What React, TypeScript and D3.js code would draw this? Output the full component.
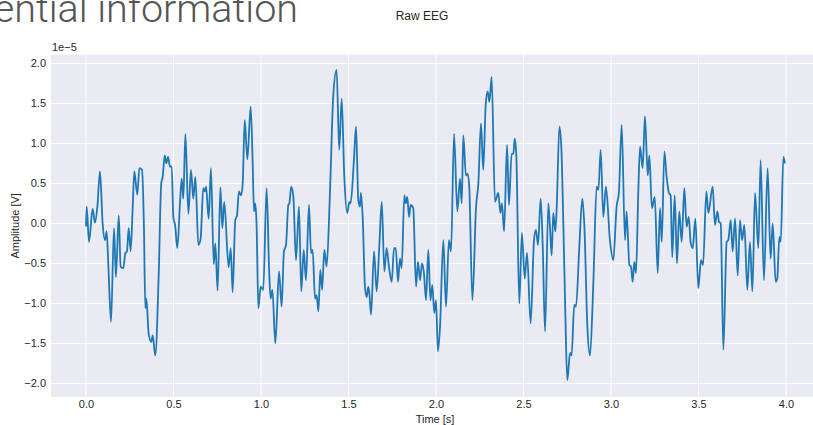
import React, { useRef, useEffect } from "react";
import { select, scaleLinear, line, curveMonotoneX, axisBottom, axisLeft, format } from "d3";

// Raw EEG trace; amplitude in units of 1e-5 V
const timeS = [
  0.000, 0.004, 0.017, 0.038, 0.051, 0.065, 0.080, 0.095, 0.109, 0.118, 0.128, 0.143, 0.160, 0.171, 0.187, 0.198,
  0.213, 0.225, 0.234, 0.244, 0.255, 0.267, 0.276, 0.293, 0.305, 0.320, 0.331, 0.339, 0.345, 0.358, 0.373, 0.381,
  0.396, 0.415, 0.430, 0.438, 0.450, 0.459, 0.469, 0.480, 0.490, 0.499, 0.509, 0.522, 0.537, 0.547, 0.556, 0.568,
  0.585, 0.600, 0.613, 0.625, 0.642, 0.655, 0.670, 0.678, 0.686, 0.701, 0.714, 0.730, 0.739, 0.752, 0.768, 0.779,
  0.790, 0.815, 0.827, 0.838, 0.853, 0.863, 0.874, 0.886, 0.895, 0.907, 0.922, 0.941, 0.952, 0.960, 0.968, 0.975,
  0.985, 0.998, 1.013, 1.032, 1.047, 1.055, 1.065, 1.082, 1.103, 1.118, 1.131, 1.143, 1.156, 1.162, 1.173, 1.185,
  1.200, 1.217, 1.230, 1.244, 1.257, 1.274, 1.286, 1.295, 1.309, 1.318, 1.328, 1.339, 1.349, 1.362, 1.375, 1.394,
  1.413, 1.432, 1.447, 1.461, 1.476, 1.493, 1.505, 1.512, 1.531, 1.543, 1.556, 1.566, 1.571, 1.581, 1.594, 1.604,
  1.613, 1.619, 1.629, 1.646, 1.661, 1.676, 1.690, 1.705, 1.718, 1.731, 1.747, 1.760, 1.770, 1.783, 1.794, 1.804,
  1.819, 1.827, 1.836, 1.846, 1.855, 1.870, 1.886, 1.897, 1.909, 1.920, 1.931, 1.943, 1.956, 1.968, 1.979, 1.990,
  2.000, 2.011, 2.023, 2.042, 2.057, 2.074, 2.086, 2.103, 2.122, 2.137, 2.147, 2.156, 2.171, 2.181, 2.190, 2.208,
  2.229, 2.242, 2.257, 2.270, 2.284, 2.295, 2.305, 2.318, 2.337, 2.356, 2.368, 2.377, 2.389, 2.406, 2.417, 2.432,
  2.442, 2.450, 2.459, 2.476, 2.491, 2.507, 2.520, 2.541, 2.560, 2.571, 2.583, 2.598, 2.610, 2.623, 2.642, 2.651,
  2.661, 2.670, 2.682, 2.690, 2.705, 2.716, 2.728, 2.739, 2.750, 2.766, 2.775, 2.790, 2.800, 2.819, 2.836, 2.848,
  2.865, 2.880, 2.899, 2.918, 2.928, 2.941, 2.956, 2.971, 2.994, 3.013, 3.032, 3.045, 3.061, 3.080, 3.089, 3.105,
  3.114, 3.124, 3.133, 3.143, 3.156, 3.166, 3.181, 3.194, 3.210, 3.219, 3.234, 3.250, 3.267, 3.280, 3.290, 3.305,
  3.318, 3.331, 3.341, 3.350, 3.364, 3.377, 3.390, 3.404, 3.419, 3.432, 3.444, 3.455, 3.467, 3.482, 3.499, 3.514,
  3.526, 3.545, 3.556, 3.581, 3.594, 3.608, 3.617, 3.627, 3.642, 3.661, 3.670, 3.684, 3.695, 3.709, 3.724, 3.737,
  3.749, 3.762, 3.779, 3.794, 3.808, 3.823, 3.842, 3.855, 3.874, 3.895, 3.912, 3.924, 3.941, 3.950, 3.962, 3.970,
  3.985, 3.994
];
const amplitude = [
  -0.04, 0.21, -0.23, 0.18, 0.01, 0.21, 0.65, 0.00, -0.21, -0.10, -0.54, -1.23, -0.06, -0.67, 0.10, -0.54,
  -0.56, -0.37, -0.35, -0.06, -0.35, 0.21, 0.65, 0.36, 0.69, 0.67, -0.04, -1.06, -0.94, -1.38, -1.48, -1.40,
  -1.65, -0.67, 0.50, 0.58, 0.85, 0.75, 0.83, 0.71, 0.71, 0.08, -0.02, -0.31, 0.25, 0.56, 0.31, 1.12,
  0.12, 0.67, 0.31, 0.58, -0.27, -0.19, 0.44, 0.40, 0.46, 0.06, 0.69, -0.51, -0.25, -0.84, 0.45, -0.06,
  0.27, -0.55, -0.31, -0.86, 0.04, 0.10, 0.40, 0.35, 0.48, 1.29, 0.80, 1.46, 0.79, 0.15, 0.25, -0.04,
  -1.06, -0.79, -0.83, 0.44, -0.62, -0.94, -0.83, -1.50, -0.60, -1.04, -0.35, -0.27, 0.23, 0.25, 0.46, 0.33,
  -0.46, 0.21, -0.85, -0.33, -0.71, 0.23, -0.37, -0.33, -0.94, -0.90, -1.10, -0.58, -0.83, -0.33, -0.54, 0.38,
  1.60, 1.92, 0.92, 1.56, 0.58, 0.13, 0.27, 0.25, 0.79, 1.21, 0.29, 0.21, 0.38, 0.08, -0.79, -0.92,
  -0.79, -0.87, -1.14, -0.35, -0.85, -0.29, 0.27, -0.60, -0.31, -0.54, -0.73, -0.31, -0.31, -0.73, -0.44, -0.56,
  0.35, 0.25, 0.33, 0.08, 0.23, 0.19, -0.79, -0.48, -0.71, -0.50, -0.62, -0.96, -0.33, -0.96, -0.77, -1.12,
  -0.96, -1.60, -1.29, -0.21, -1.04, -0.21, -0.35, 1.12, 0.15, 0.56, 0.25, 1.10, 0.60, 0.62, 0.46, -0.96,
  0.21, 0.50, 1.25, 0.67, 1.48, 1.65, 1.52, 1.83, 0.27, 0.38, 0.13, 0.25, -0.10, 0.98, 0.23, 0.87,
  0.87, 1.06, 0.85, -1.00, -0.12, -0.69, -0.37, -1.25, -0.21, -0.08, -0.27, 0.31, -0.29, -1.35, 0.25, -0.04,
  -0.40, 0.13, -0.10, 0.21, 1.21, 0.96, -0.04, -1.12, -1.96, -1.62, -1.65, -1.02, -1.04, -0.29, 0.31, -0.04,
  -1.29, -1.65, -0.75, 0.46, 0.42, 0.92, 0.08, 0.46, -0.21, -0.46, 0.21, 0.38, 1.23, -0.21, 0.15, -0.52,
  -0.54, -0.73, -0.48, -0.62, 0.40, 0.96, 0.69, 1.34, 0.60, 0.85, 0.19, 0.33, -0.62, 0.19, -0.23, 0.90,
  0.58, 0.38, 0.35, -0.42, 0.35, -0.50, 0.15, -0.23, 0.44, -0.04, 0.08, -0.23, -0.31, 0.06, -0.81, -0.46,
  -0.52, 0.40, 0.13, 0.46, -0.02, 0.15, 0.02, 0.00, -1.58, -0.23, -0.21, 0.04, -0.35, 0.06, -0.65, 0.04,
  -0.21, -0.02, -0.83, -0.23, -0.85, 0.38, -0.31, 0.79, -0.71, 0.69, -0.44, 0.00, -0.73, -0.69, -0.17, -0.23,
  0.83, 0.75
];
const xTicks = [0, 0.5, 1, 1.5, 2, 2.5, 3, 3.5, 4];
const yTicks = [-2, -1.5, -1, -0.5, 0, 0.5, 1, 1.5, 2];

const FONT = "'Liberation Sans', Arial, sans-serif";

function App() {
  const svgRef = useRef<SVGSVGElement>(null);

  useEffect(() => {
    const svg = select(svgRef.current);
    svg.selectAll("*").remove();

    const left = 51, right = 821, top = 54.6, bottom = 397;
    const xScale = scaleLinear().domain([-0.2, 4.2]).range([left, right]);
    const yScale = scaleLinear().domain([-2.17, 2.11]).range([bottom, top]);

    // cut-off page heading behind the figure
    svg.append("text")
      .attr("x", 298).attr("y", 22)
      .attr("text-anchor", "end")
      .attr("font-family", "Roboto, 'Open Sans', sans-serif")
      .attr("font-weight", 300)
      .attr("font-size", 39.5)
      .attr("fill", "#555")
      .text("ential information");

    svg.append("rect")
      .attr("x", left).attr("y", top)
      .attr("width", right - left).attr("height", bottom - top)
      .attr("fill", "#eaeaf2");

    // grid
    svg.append("g").selectAll("line").data(xTicks).join("line")
      .attr("x1", d => xScale(d)).attr("x2", d => xScale(d))
      .attr("y1", top).attr("y2", bottom)
      .attr("stroke", "#fff").attr("stroke-width", 1);
    svg.append("g").selectAll("line").data(yTicks).join("line")
      .attr("x1", left).attr("x2", right)
      .attr("y1", d => yScale(d)).attr("y2", d => yScale(d))
      .attr("stroke", "#fff").attr("stroke-width", 1);

    const xAxis = axisBottom(xScale).tickValues(xTicks).tickSize(0).tickPadding(3.5).tickFormat(format(".1f"));
    const yAxis = axisLeft(yScale).tickValues(yTicks).tickSize(0).tickPadding(5).tickFormat(format(".1f"));

    const gx = svg.append("g").attr("transform", `translate(0,${bottom})`).call(xAxis);
    const gy = svg.append("g").attr("transform", `translate(${left},0)`).call(yAxis);
    [gx, gy].forEach(g => {
      g.select(".domain").remove();
      g.selectAll("text")
        .attr("font-family", FONT)
        .attr("font-size", 11)
        .attr("fill", "#262626");
    });

    svg.append("defs").append("clipPath").attr("id", "plotClip")
      .append("rect")
      .attr("x", left).attr("y", top)
      .attr("width", right - left).attr("height", bottom - top);

    const eegLine = line<number>()
      .x((d, i) => xScale(timeS[i]))
      .y(d => yScale(d))
      .curve(curveMonotoneX);

    svg.append("path")
      .datum(amplitude)
      .attr("clip-path", "url(#plotClip)")
      .attr("d", eegLine)
      .attr("fill", "none")
      .attr("stroke", "#1f77b4")
      .attr("stroke-width", 1.8)
      .attr("stroke-linejoin", "round");

    svg.append("text")
      .attr("x", 422).attr("y", 20)
      .attr("text-anchor", "middle")
      .attr("font-family", FONT).attr("font-size", 12)
      .attr("fill", "#262626")
      .text("Raw EEG");

    svg.append("text")
      .attr("x", left + 1).attr("y", 51)
      .attr("font-family", FONT).attr("font-size", 11)
      .attr("fill", "#262626")
      .text("1e\u22125");

    svg.append("text")
      .attr("x", 435).attr("y", 423)
      .attr("text-anchor", "middle")
      .attr("font-family", FONT).attr("font-size", 11)
      .attr("fill", "#262626")
      .text("Time [s]");

    svg.append("text")
      .attr("transform", `translate(19,${(top + bottom) / 2}) rotate(-90)`)
      .attr("text-anchor", "middle")
      .attr("font-family", FONT).attr("font-size", 11)
      .attr("fill", "#262626")
      .text("Amplitude [V]");
  }, []);

  return (
    <svg
      ref={svgRef}
      width={813}
      height={425}
      style={{ position: "absolute", left: 0, top: 0, background: "#fff" }}
    />
  );
}

export default App;
